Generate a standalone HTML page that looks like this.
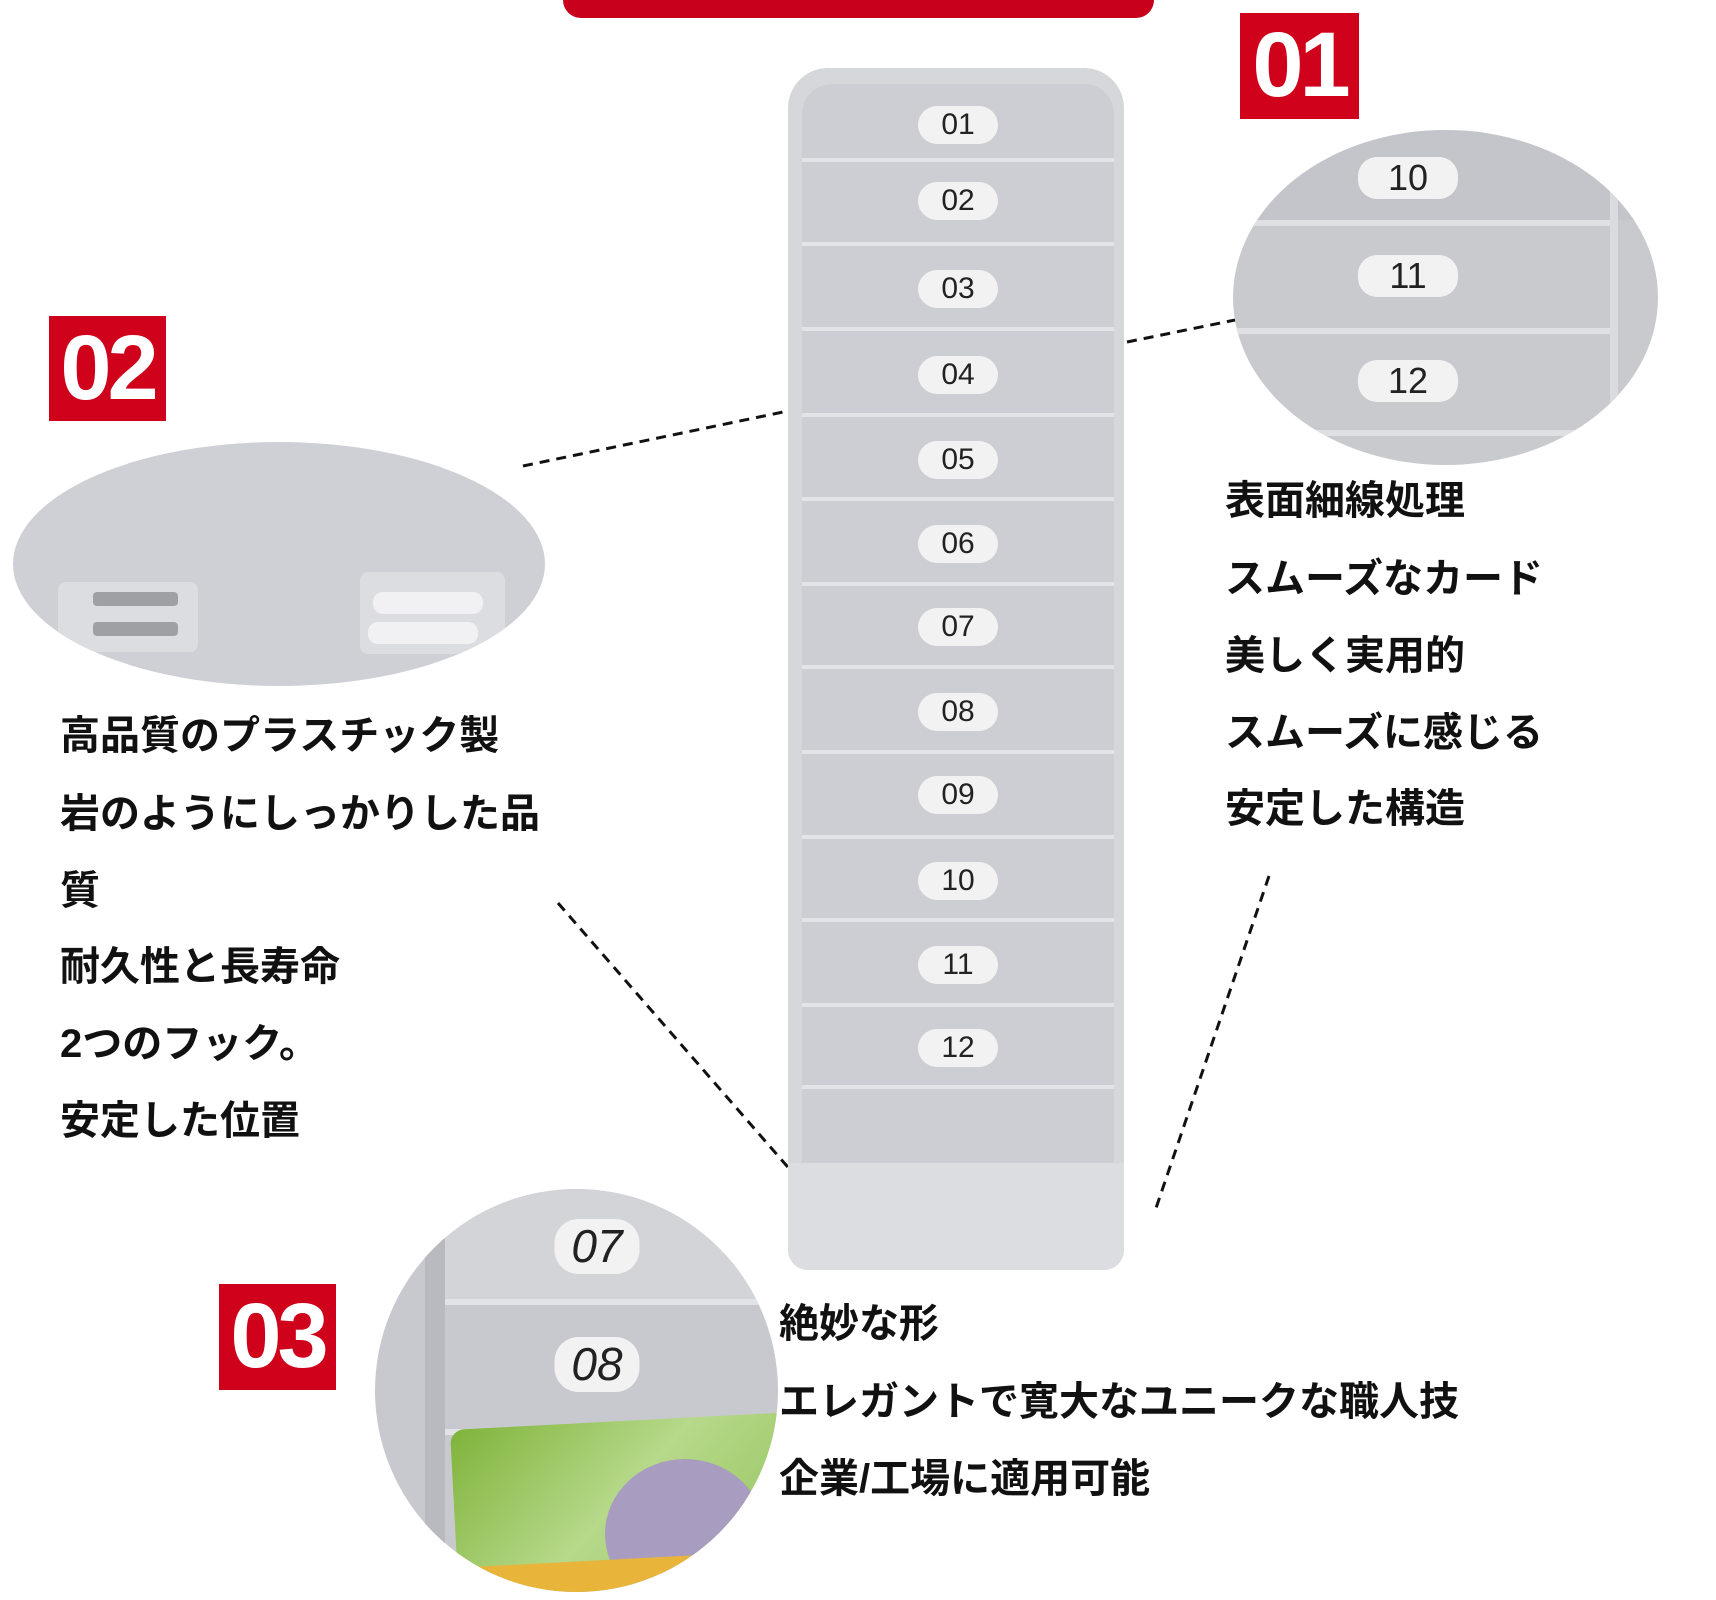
<!DOCTYPE html>
<html><head><meta charset="utf-8"><style>
body{margin:0;width:1716px;height:1600px;background:#fff;position:relative;overflow:hidden;font-family:"Liberation Sans","Noto Sans CJK JP",sans-serif}
.a{position:absolute}
.lab{position:absolute;background:#d0021b;color:#fff;font-size:92px;font-weight:bold;line-height:105px;text-align:center;letter-spacing:-4px}
.t{position:absolute;font-size:40px;font-weight:bold;color:#111;white-space:nowrap;line-height:44px}
.slot{position:absolute;left:14px;right:10px;background:#cdced3;border-top:4px solid #e3e4e7}
.pill{position:absolute;left:50%;transform:translateX(-50%);width:80px;height:38px;border-radius:19px;background:#f2f2f3;font-size:30px;line-height:38px;text-align:center;color:#222}
</style></head><body>
<div class="a" style="left:563px;top:0;width:591px;height:18px;background:#c8001c;border-radius:0 0 18px 18px"></div>
<div class="lab" style="left:1240px;top:13px;width:119px;height:106px">01</div>
<div class="lab" style="left:49px;top:316px;width:117px;height:105px">02</div>
<div class="lab" style="left:219px;top:1284px;width:117px;height:106px">03</div>

<svg class="a" style="left:0;top:0" width="1716" height="1600">
<g stroke="#111" stroke-width="3" stroke-dasharray="10,7" fill="none">
<line x1="523" y1="466" x2="788" y2="411"/>
<line x1="1127" y1="342" x2="1240" y2="319"/>
<line x1="558" y1="903" x2="793" y2="1173"/>
<line x1="1269" y1="876" x2="1154" y2="1214"/>
</g></svg>

<div class="a" style="left:788px;top:68px;width:336px;height:1202px;background:#d6d7da;border-radius:40px 40px 20px 20px;overflow:hidden">
<div class="slot" style="top:16px;height:74px;border-top:none;border-radius:30px 30px 0 0"><div class="pill" style="top:22px">01</div></div>
<div class="slot" style="top:90px;height:80px"><div class="pill" style="top:20px">02</div></div>
<div class="slot" style="top:174px;height:81px"><div class="pill" style="top:24px">03</div></div>
<div class="slot" style="top:259px;height:82px"><div class="pill" style="top:25px">04</div></div>
<div class="slot" style="top:345px;height:81px"><div class="pill" style="top:24px">05</div></div>
<div class="slot" style="top:429px;height:81px"><div class="pill" style="top:24px">06</div></div>
<div class="slot" style="top:514px;height:81px"><div class="pill" style="top:22px">07</div></div>
<div class="slot" style="top:597px;height:81px"><div class="pill" style="top:24px">08</div></div>
<div class="slot" style="top:682px;height:81px"><div class="pill" style="top:22px">09</div></div>
<div class="slot" style="top:767px;height:81px"><div class="pill" style="top:23px">10</div></div>
<div class="slot" style="top:850px;height:81px"><div class="pill" style="top:24px">11</div></div>
<div class="slot" style="top:935px;height:79px"><div class="pill" style="top:22px">12</div></div>
<div class="slot" style="top:1017px;height:74px"></div>
<div class="a" style="left:0;right:0;top:1095px;height:110px;background:#dcdde0"></div>
</div>

<div class="a" style="left:1233px;top:130px;width:425px;height:335px;border-radius:50%;background:#c9cace;overflow:hidden">
<div class="a" style="left:0;right:0;top:0;height:90px;background:#c4c5ca"></div>
<div class="a" style="left:0;right:40px;top:90px;height:6px;background:#dfe0e3"></div>
<div class="a" style="left:0;right:40px;top:198px;height:6px;background:#dfe0e3"></div>
<div class="a" style="left:0;right:0;top:300px;height:6px;background:#dfe0e3"></div>
<div class="a" style="right:40px;top:60px;width:8px;height:250px;background:#dadbde"></div>
<div class="pill" style="left:175px;top:27px;width:100px;height:42px;line-height:42px;font-size:36px;transform:translateX(-50%)">10</div>
<div class="pill" style="left:175px;top:125px;width:100px;height:42px;line-height:42px;font-size:36px;transform:translateX(-50%)">11</div>
<div class="pill" style="left:175px;top:230px;width:100px;height:42px;line-height:42px;font-size:36px;transform:translateX(-50%)">12</div>
</div>

<div class="a" style="left:13px;top:442px;width:532px;height:244px;border-radius:50%;background:#cfd0d6;overflow:hidden">
<div class="a" style="left:45px;top:140px;width:140px;height:70px;background:#dcdde0;border-radius:8px"></div>
<div class="a" style="left:80px;top:150px;width:85px;height:14px;background:#9fa0a4;border-radius:4px"></div>
<div class="a" style="left:80px;top:180px;width:85px;height:14px;background:#9fa0a4;border-radius:4px"></div>
<div class="a" style="left:347px;top:130px;width:145px;height:82px;background:#dcdde0;border-radius:8px"></div>
<div class="a" style="left:360px;top:150px;width:110px;height:22px;background:#f1f1f3;border-radius:10px"></div>
<div class="a" style="left:355px;top:180px;width:110px;height:22px;background:#f1f1f3;border-radius:10px"></div>
</div>

<div class="a" style="left:375px;top:1189px;width:403px;height:403px;border-radius:50%;background:#c8c9ce;overflow:hidden">
<div class="a" style="left:70px;top:0;width:320px;height:110px;background:#d3d4d8"></div>
<div class="a" style="left:70px;top:110px;width:320px;height:6px;background:#e2e3e6"></div>
<div class="a" style="left:70px;top:240px;width:320px;height:6px;background:#e2e3e6"></div>
<div class="a" style="left:50px;top:0;width:20px;height:403px;background:#b9babf"></div>
<div class="pill" style="left:222px;top:30px;width:85px;height:55px;line-height:55px;font-size:46px;font-style:italic;border-radius:24px">07</div>
<div class="pill" style="left:222px;top:148px;width:85px;height:55px;line-height:55px;font-size:46px;font-style:italic;border-radius:24px">08</div>
<div class="a" style="left:80px;top:232px;width:340px;height:200px;background:linear-gradient(135deg,#7fb33a,#b6d98a 45%,#8fbf55);border-radius:14px;transform:rotate(-3deg)"></div>
<div class="a" style="left:230px;top:270px;width:160px;height:150px;border-radius:50%;background:#a89cc0"></div>
<div class="a" style="left:100px;top:370px;width:300px;height:60px;background:#e8b43a;transform:rotate(-3deg)"></div>
</div>

<div class="t" style="left:60px;top:714px">高品質のプラスチック製</div>
<div class="t" style="left:60px;top:792px">岩のようにしっかりした品</div>
<div class="t" style="left:60px;top:869px">質</div>
<div class="t" style="left:60px;top:945px">耐久性と長寿命</div>
<div class="t" style="left:60px;top:1022px">2つのフック。</div>
<div class="t" style="left:60px;top:1099px">安定した位置</div>

<div class="t" style="left:1225px;top:479px">表面細線処理</div>
<div class="t" style="left:1225px;top:557px">スムーズなカード</div>
<div class="t" style="left:1225px;top:634px">美しく実用的</div>
<div class="t" style="left:1225px;top:711px">スムーズに感じる</div>
<div class="t" style="left:1225px;top:787px">安定した構造</div>

<div class="t" style="left:779px;top:1302px">絶妙な形</div>
<div class="t" style="left:779px;top:1380px">エレガントで寛大なユニークな職人技</div>
<div class="t" style="left:779px;top:1457px">企業/工場に適用可能</div>
</body></html>
